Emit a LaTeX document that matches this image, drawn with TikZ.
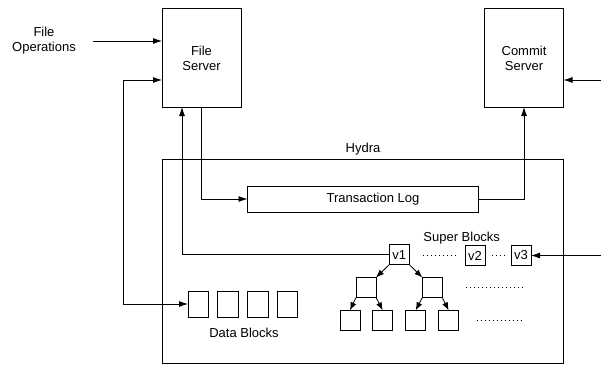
\documentclass[tikz,border=0pt]{standalone}
\usepackage{fontspec}
\setmainfont{Liberation Sans}
\usetikzlibrary{arrows.meta}
\tikzset{
  box/.style={draw,line width=0.8pt,inner sep=0pt,outer sep=0pt,align=center,font=\fontsize{13}{15}\selectfont},
  lbl/.style={inner sep=0pt,outer sep=0pt,align=center,font=\fontsize{13}{15}\selectfont},
  server/.style={box,minimum width=79pt,minimum height=99pt},
  dblock/.style={box,minimum width=20.5pt,minimum height=26pt},
  sblock/.style={box,minimum width=20pt,minimum height=20pt},
  conn/.style={line width=0.8pt},
  arr/.style={conn,-{Latex[length=9pt,width=6pt]}},
  tarr/.style={conn,-{Latex[length=8pt,width=6pt]}},
  barr/.style={conn,{Latex[length=9pt,width=6pt]}-{Latex[length=9pt,width=6pt]}},
  dots/.style={line width=0.6pt,dash pattern=on 0.7pt off 3.3pt},
}
\begin{document}
\begin{tikzpicture}[x=1pt,y=-1pt]
\useasboundingbox (0,0) rectangle (601,367);
% servers and enclosure
\node[server] (fs) at (201.5,57.5) {};
\node[lbl] (fslbl) at (201.5,58) {File\\Server};
\node[server] (cs) at (524,57.5) {};
\node[lbl] (cslbl) at (524,58) {Commit\\Server};
\node[box,minimum width=401pt,minimum height=203.5pt] (hydra) at (363,261.25) {};
\node[lbl] (hydralbl) at (363,149) {Hydra};
\node[lbl] (ops) at (44,41) {File\\Operations};
\node[box,minimum width=231pt,minimum height=26pt] (log) at (363,199) {};
\node[lbl] (loglbl) at (373,199) {Transaction Log};
% data blocks
\node[dblock] (d1) at (198.25,304) {};
\node[dblock] (d2) at (228,304) {};
\node[dblock] (d3) at (257.75,304) {};
\node[dblock] (d4) at (287.25,304) {};
\node[lbl] (dlbl) at (244,333) {Data Blocks};
% super blocks
\node[lbl] (slbl) at (461.7,238) {Super Blocks};
\node[sblock] (v1) at (399.25,254.6) {v1};
\node[sblock] (v2) at (475,255.5) {v2};
\node[sblock] (v3) at (521,255.5) {v3};
\node[sblock] (ml) at (366,287.5) {};
\node[sblock] (mr) at (432.3,287.5) {};
\node[sblock] (l1) at (350,320.3) {};
\node[sblock] (l2) at (382.7,320.3) {};
\node[sblock] (l3) at (415.7,320.3) {};
\node[sblock] (l4) at (448.6,320.3) {};
% free ends and bends
\coordinate (opsStart) at (93,41);
\coordinate (dbBend) at (123,80);
\coordinate (fsIn) at (182,107);
\coordinate (csOut) at (601,80);
\coordinate (v3In) at (601,255.5);
% connectors
\draw[arr] (opsStart) -- (opsStart -| fs.west);
\draw[barr] (d1.west) -| (dbBend) -- (dbBend -| fs.west);
\draw[arr] (v1.west) -| (fsIn);
\draw[arr] (fs.south) |- (log.west);
\draw[arr] (log.east) -| (cs.south);
\draw[arr] (csOut) -- (csOut -| cs.east);
\draw[arr] (v3In) -- (v3.east);
\draw[tarr] (v1.south west) -- (ml.north east);
\draw[tarr] (v1.south east) -- (mr.north west);
\draw[tarr] (ml.south west) -- (l1.north);
\draw[tarr] (ml.south east) -- (l2.north);
\draw[tarr] (mr.south west) -- (l3.north);
\draw[tarr] (mr.south east) -- (l4.north);
% dotted runs
\coordinate (a1) at (422.7,255); \coordinate (a2) at (455,255);
\coordinate (b1) at (492,255); \coordinate (b2) at (505,255);
\coordinate (c1) at (466,287.7); \coordinate (c2) at (525,287.7);
\coordinate (e1) at (476.7,320.6); \coordinate (e2) at (521.7,320.6);
\draw[dots] (a1) -- (a2);
\draw[dots] (b1) -- (b2);
\draw[dots] (c1) -- (c2);
\draw[dots] (e1) -- (e2);
\end{tikzpicture}
\end{document}
